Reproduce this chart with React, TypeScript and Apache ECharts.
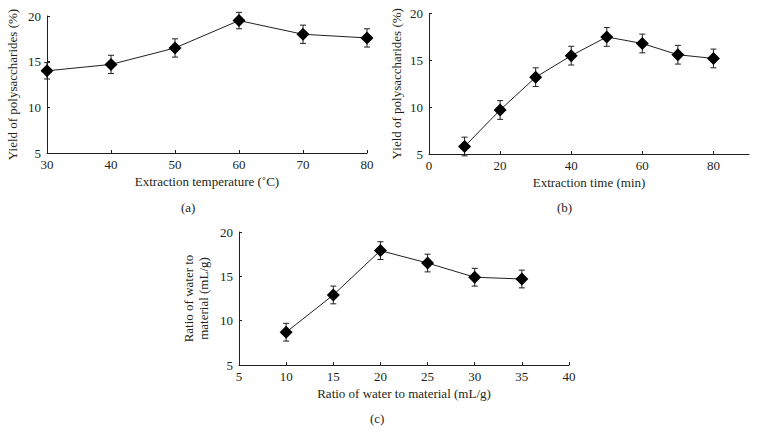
import React, { useEffect, useRef } from "react";
import * as echarts from "echarts";

// Panel (a): extraction temperature
const tempX = [30, 40, 50, 60, 70, 80];
const tempY = [14.0, 14.7, 16.5, 19.5, 18.0, 17.6];
const tempErr = [0.9, 1.0, 1.0, 0.9, 1.0, 1.0];

// Panel (b): extraction time
const timeX = [10, 20, 30, 40, 50, 60, 70, 80];
const timeY = [5.8, 9.7, 13.2, 15.5, 17.5, 16.8, 15.6, 15.2];
const timeErr = [1.0, 1.0, 1.0, 1.0, 1.0, 1.0, 1.0, 1.0];

// Panel (c): ratio of water to material
const ratioX = [10, 15, 20, 25, 30, 35];
const ratioY = [8.7, 12.9, 17.9, 16.5, 14.9, 14.7];
const ratioErr = [1.0, 1.0, 1.0, 1.0, 1.0, 1.0];

const FONT = "Liberation Serif";
const INK = "#231f20";

function errorData(xs: number[], ys: number[], es: number[]) {
  return xs.map((x, i) => [x, ys[i] - es[i], ys[i] + es[i]]);
}

function errorRender(params: any, api: any) {
  const x = api.value(0);
  const lo = api.coord([x, api.value(1)]);
  const hi = api.coord([x, api.value(2)]);
  const cap = 3;
  const style = { stroke: INK, lineWidth: 1 };
  return {
    type: "group",
    children: [
      { type: "line", shape: { x1: lo[0], y1: lo[1], x2: hi[0], y2: hi[1] }, style },
      { type: "line", shape: { x1: lo[0] - cap, y1: lo[1], x2: lo[0] + cap, y2: lo[1] }, style },
      { type: "line", shape: { x1: hi[0] - cap, y1: hi[1], x2: hi[0] + cap, y2: hi[1] }, style },
    ],
  };
}

function xAxisCfg(idx: number, min: number, max: number, interval: number, name: string, hideMax = false) {
  return {
    type: "value",
    gridIndex: idx,
    min,
    max,
    interval,
    name,
    nameLocation: "middle",
    nameGap: 22,
    nameTextStyle: { fontFamily: FONT, fontSize: 13, color: INK },
    axisLine: { show: true, lineStyle: { color: INK, width: 1 } },
    axisTick: { show: true, inside: true, length: 3, lineStyle: { color: INK } },
    axisLabel: {
      fontFamily: FONT,
      fontSize: 13,
      color: INK,
      margin: 5,
      showMaxLabel: !hideMax,
    },
    splitLine: { show: false },
  };
}

function yAxisCfg(idx: number, name: string, gap: number) {
  return {
    type: "value",
    gridIndex: idx,
    min: 5,
    max: 20,
    interval: 5,
    name,
    nameLocation: "middle",
    nameGap: gap,
    nameRotate: 90,
    nameTextStyle: { fontFamily: FONT, fontSize: 13, color: INK, lineHeight: 15 },
    axisLine: { show: true, lineStyle: { color: INK, width: 1 } },
    axisTick: { show: true, inside: true, length: 3, lineStyle: { color: INK } },
    axisLabel: { fontFamily: FONT, fontSize: 13, color: INK, margin: 6 },
    splitLine: { show: false },
  };
}

function lineSeries(idx: number, xs: number[], ys: number[]) {
  return {
    type: "line",
    xAxisIndex: idx,
    yAxisIndex: idx,
    data: xs.map((x, i) => [x, ys[i]]),
    symbol: "diamond",
    symbolSize: 13,
    itemStyle: { color: "#000" },
    lineStyle: { color: INK, width: 1 },
    z: 3,
  };
}

function errSeries(idx: number, xs: number[], ys: number[], es: number[]) {
  return {
    type: "custom",
    xAxisIndex: idx,
    yAxisIndex: idx,
    data: errorData(xs, ys, es),
    renderItem: errorRender,
    encode: { x: 0, y: [1, 2] },
    z: 2,
  };
}

export default function App() {
  const ref = useRef<HTMLDivElement>(null);
  useEffect(() => {
    document.body.style.margin = "0";
    const chart = echarts.init(ref.current!, null, { renderer: "svg" });
    chart.setOption({
      animation: false,
      backgroundColor: "#fff",
      grid: [
        { left: 47, top: 16, width: 320, height: 137 },
        { left: 429, top: 13.5, width: 320, height: 140.5 },
        { left: 239, top: 232, width: 330, height: 133 },
      ],
      xAxis: [
        xAxisCfg(0, 30, 80, 10, "Extraction temperature (\u02daC)"),
        xAxisCfg(1, 0, 90, 20, "Extraction time (min)", true),
        xAxisCfg(2, 5, 40, 5, "Ratio of water to material (mL/g)"),
      ],
      yAxis: [
        yAxisCfg(0, "Yield of polysaccharides (%)", 27),
        yAxisCfg(1, "Yield of polysaccharides (%)", 25),
        yAxisCfg(2, "Ratio of water to\nmaterial (mL/g)", 28),
      ],
      graphic: [
        { type: "text", left: 181, top: 201, style: { text: "(a)", font: `13px "${FONT}"`, fill: INK } },
        { type: "text", left: 557, top: 201, style: { text: "(b)", font: `13px "${FONT}"`, fill: INK } },
        { type: "text", left: 370, top: 412, style: { text: "(c)", font: `13px "${FONT}"`, fill: INK } },
      ],
      series: [
        errSeries(0, tempX, tempY, tempErr),
        lineSeries(0, tempX, tempY),
        errSeries(1, timeX, timeY, timeErr),
        lineSeries(1, timeX, timeY),
        errSeries(2, ratioX, ratioY, ratioErr),
        lineSeries(2, ratioX, ratioY),
      ],
    });
    return () => chart.dispose();
  }, []);
  return (
    <div
      ref={ref}
      style={{ position: "fixed", left: 0, top: 0, width: 758, height: 446, background: "#fff" }}
    />
  );
}
